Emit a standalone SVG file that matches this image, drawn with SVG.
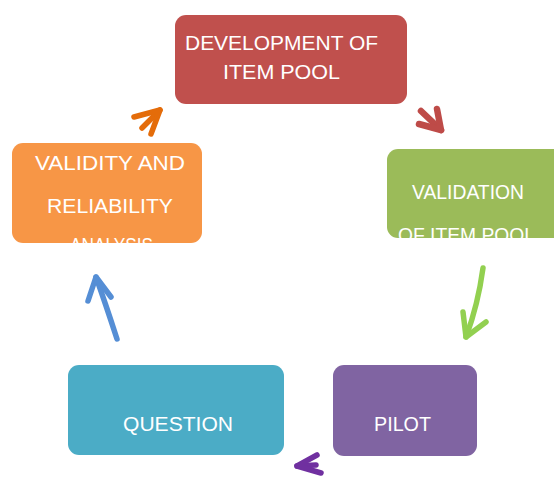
<svg xmlns="http://www.w3.org/2000/svg" width="554" height="477" viewBox="0 0 554 477">
  <defs>
    <style>
      .box { stroke: none; }
      .lbl { font-family: "Liberation Sans", Arial, sans-serif; fill: #ffffff; font-size: 19.5px; }
      .arr { fill: none; stroke-linecap: round; stroke-linejoin: round; }
    </style>
    <clipPath id="clip-orange"><rect x="12" y="143" width="190" height="100" rx="11"/></clipPath>
    <clipPath id="clip-green"><rect x="387" y="149" width="180" height="89" rx="11"/></clipPath>
  </defs>

  <rect width="554" height="477" fill="#ffffff"/>

  <g id="node-development">
    <rect class="box" x="175" y="15" width="232" height="89" rx="11" fill="#C0504D"/>
    <text class="lbl" x="185" y="50" textLength="193" lengthAdjust="spacingAndGlyphs">DEVELOPMENT OF</text>
    <text class="lbl" x="223" y="79" textLength="117" lengthAdjust="spacingAndGlyphs">ITEM POOL</text>
  </g>

  <g id="node-validation">
    <rect class="box" x="387" y="149" width="180" height="89" rx="11" fill="#9BBB59"/>
    <g clip-path="url(#clip-green)">
      <text class="lbl" x="412" y="199" textLength="112" lengthAdjust="spacingAndGlyphs">VALIDATION</text>
      <text class="lbl" x="398" y="242" textLength="137" lengthAdjust="spacingAndGlyphs">OF ITEM  POOL</text>
    </g>
  </g>

  <g id="node-pilot">
    <rect class="box" x="333" y="365" width="144" height="91" rx="11" fill="#8064A2"/>
    <text class="lbl" x="374" y="431" textLength="57" lengthAdjust="spacingAndGlyphs">PILOT</text>
  </g>

  <g id="node-question">
    <rect class="box" x="68" y="365" width="216" height="90" rx="11" fill="#4BACC6"/>
    <text class="lbl" x="123" y="431" textLength="110" lengthAdjust="spacingAndGlyphs">QUESTION</text>
  </g>

  <g id="node-validity">
    <rect class="box" x="12" y="143" width="190" height="100" rx="11" fill="#F79646"/>
    <g clip-path="url(#clip-orange)">
      <text class="lbl" x="35" y="170" textLength="150" lengthAdjust="spacingAndGlyphs">VALIDITY AND</text>
      <text class="lbl" x="47" y="213" textLength="126" lengthAdjust="spacingAndGlyphs">RELIABILITY</text>
      <text class="lbl" x="70" y="252" textLength="83" lengthAdjust="spacingAndGlyphs">ANALYSIS</text>
    </g>
  </g>

  <g id="connectors">
    <!-- development -> validation -->
    <g class="arr" stroke="#BE4B48" stroke-width="6.5">
      <path d="M421 111 L441 130"/>
      <path d="M437 109 L441 130 L419 124"/>
    </g>
    <!-- validation -> pilot -->
    <g class="arr" stroke="#92D050" stroke-width="5.5">
      <path d="M483 268 Q478 305 466 337"/>
      <path d="M463 312 L466 337 L486 322"/>
    </g>
    <!-- pilot -> question -->
    <g class="arr" stroke="#7030A0" stroke-width="5.5">
      <path d="M316 465 L297 466"/>
      <path d="M317 455 L297 466 L321 473"/>
    </g>
    <!-- question -> validity -->
    <g class="arr" stroke="#558ED5" stroke-width="5.5">
      <path d="M117 339 Q106 305 96 277"/>
      <path d="M88 301 L96 277 L111 297"/>
    </g>
    <!-- validity -> development -->
    <g class="arr" stroke="#E46C0A" stroke-width="5.5">
      <path d="M142 128 L160 110"/>
      <path d="M134 117 L160 110 L151 134"/>
    </g>
  </g>
</svg>
